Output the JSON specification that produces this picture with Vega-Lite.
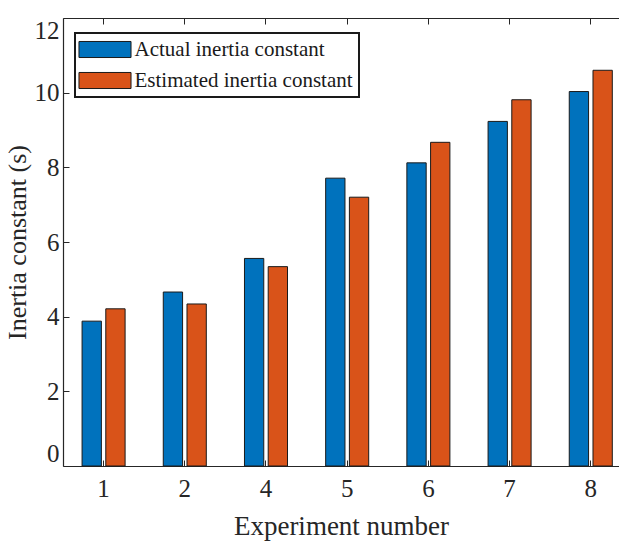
{
  "$schema": "https://vega.github.io/schema/vega-lite/v6.json",
  "width": 556,
  "height": 448,
  "autosize": {"type": "none"},
  "padding": {"left": 63, "top": 18, "right": 0, "bottom": 75},
  "background": "white",
  "config": {
    "view": {"stroke": null},
    "font": "Liberation Serif",
    "legend": {"strokeWidth": 2}
  },
  "data": {
    "values": [
      {"experiment": "1", "series": "Actual inertia constant", "value": 3.88},
      {"experiment": "1", "series": "Estimated inertia constant", "value": 4.21},
      {"experiment": "2", "series": "Actual inertia constant", "value": 4.66},
      {"experiment": "2", "series": "Estimated inertia constant", "value": 4.34},
      {"experiment": "4", "series": "Actual inertia constant", "value": 5.56},
      {"experiment": "4", "series": "Estimated inertia constant", "value": 5.34},
      {"experiment": "5", "series": "Actual inertia constant", "value": 7.71},
      {"experiment": "5", "series": "Estimated inertia constant", "value": 7.2},
      {"experiment": "6", "series": "Actual inertia constant", "value": 8.12},
      {"experiment": "6", "series": "Estimated inertia constant", "value": 8.67},
      {"experiment": "7", "series": "Actual inertia constant", "value": 9.23},
      {"experiment": "7", "series": "Estimated inertia constant", "value": 9.81},
      {"experiment": "8", "series": "Actual inertia constant", "value": 10.03},
      {"experiment": "8", "series": "Estimated inertia constant", "value": 10.6}
    ]
  },
  "layer": [
    {
      "mark": {"type": "bar", "stroke": "#1a1a1a", "strokeWidth": 1},
      "encoding": {
        "x": {
          "field": "experiment",
          "type": "ordinal",
          "scale": {"paddingInner": 0.47, "paddingOuter": 0.1587, "align": 0.74, "round": false},
          "axis": {
            "orient": "bottom",
            "title": "Experiment number",
            "labelAngle": 0,
            "tickSize": -6,
            "labelPadding": 16,
            "labelBaseline": "top",
            "domainColor": "#262626",
            "domainWidth": 1.2,
            "tickColor": "#262626",
            "labelFont": "Liberation Serif",
            "labelFontSize": 25,
            "labelColor": "#262626",
            "titleFont": "Liberation Serif",
            "titleFontSize": 27,
            "titleFontWeight": "normal",
            "titleColor": "#262626",
            "titlePadding": 12
          }
        },
        "xOffset": {
          "field": "series",
          "type": "nominal",
          "scale": {"paddingInner": 0.186, "paddingOuter": 0}
        },
        "y": {
          "field": "value",
          "type": "quantitative",
          "scale": {"domain": [0, 12], "nice": false},
          "axis": {
            "title": "Inertia constant (s)",
            "values": [0, 2, 4, 6, 8, 10, 12],
            "grid": false,
            "tickSize": -6,
            "labelPadding": 10,
            "labelFlush": true,
            "domainColor": "#262626",
            "domainWidth": 1.2,
            "tickColor": "#262626",
            "labelFont": "Liberation Serif",
            "labelFontSize": 25,
            "labelColor": "#262626",
            "titleFont": "Liberation Serif",
            "titleFontSize": 26,
            "titleFontWeight": "normal",
            "titleColor": "#262626",
            "titlePadding": 4
          }
        },
        "color": {
          "field": "series",
          "type": "nominal",
          "scale": {
            "domain": ["Actual inertia constant", "Estimated inertia constant"],
            "range": ["#0072BD", "#D95319"]
          },
          "legend": {
            "title": null,
            "orient": "none",
            "legendX": 12,
            "legendY": 15,
            "symbolType": "M-3.47,-1.07H3.47V1.07H-3.47Z",
            "symbolSize": 225,
            "symbolStrokeColor": "#1a1a1a",
            "symbolStrokeWidth": 1,
            "symbolOffset": 13.5,
            "labelOffset": 19,
            "labelFont": "Liberation Serif",
            "labelFontSize": 21,
            "labelColor": "#1a1a1a",
            "labelLimit": 400,
            "rowPadding": 9,
            "padding": 6,
            "fillColor": "white",
            "strokeColor": "#1a1a1a"
          }
        }
      }
    },
    {
      "mark": {"type": "rule", "opacity": 0},
      "encoding": {
        "x": {
          "field": "experiment",
          "type": "ordinal",
          "axis": {
            "orient": "top",
            "title": null,
            "labels": false,
            "tickSize": -6,
            "domainColor": "#262626",
            "domainWidth": 1.2,
            "tickColor": "#262626"
          }
        }
      }
    }
  ],
  "resolve": {"axis": {"x": "independent"}}
}
